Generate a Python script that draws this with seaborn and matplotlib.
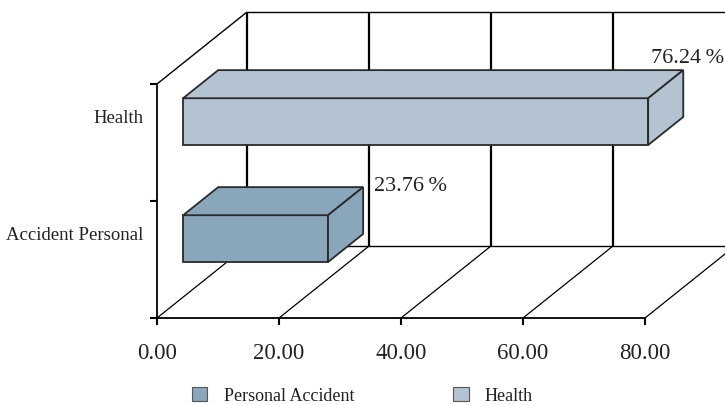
import matplotlib
matplotlib.use("Agg")
import matplotlib.pyplot as plt
import seaborn as sns
import pandas as pd
from matplotlib.patches import Polygon, Patch

# ---- data ----
categories = ["Health", "Accident Personal"]
values = [76.24, 23.76]
value_labels = ["76.24\u2009%", "23.76\u2009%"]
legend_labels = ["Personal Accident", "Health"]
x_ticks = [0, 20, 40, 60, 80]
x_tick_labels = ["0.00", "20.00", "40.00", "60.00", "80.00"]

# ---- style ----
colors = {"Health": "#B3C3D2", "Accident Personal": "#8AA6BB"}
edge = "#2a2a2a"

sns.set_theme(style="white")
plt.rcParams["font.family"] = ["Liberation Serif", "DejaVu Serif"]

W, H = 725, 406
fig = plt.figure(figsize=(W / 100, H / 100), dpi=100)
ax_left, ax_right, ax_top, ax_bot = 157, 645, 85, 319
ax = fig.add_axes([ax_left / W, (H - ax_bot) / H, (ax_right - ax_left) / W, (ax_bot - ax_top) / H])

df = pd.DataFrame({"cat": categories, "val": values})
sns.barplot(data=df, x="val", y="cat", hue="cat", palette=colors, orient="h", saturation=1,
            width=0.40, edgecolor=edge, linewidth=1.3, legend=False, ax=ax, zorder=5)

ax.set_xlim(0, 80)
ax.set_ylim(1.5, -0.5)

# pixel -> data conversions for the oblique depth
px_x = (ax_right - ax_left) / 80.0
px_y = (ax_bot - ax_top) / 2.0
WX, WY = 90 / px_x, -72 / px_y          # full wall depth
front_frac, depth_frac = 0.29, 0.39      # bar placement within depth

# walls / floor
wall_kw = dict(color="black", clip_on=False, zorder=1, solid_capstyle="butt")
ylo, yhi = ax.get_ylim()[1], ax.get_ylim()[0]   # -0.5, 1.5
for xt in x_ticks:
    ax.plot([xt + WX, xt + WX], [yhi + WY, ylo + WY], lw=1.6, **wall_kw)
    ax.plot([xt, xt + WX], [yhi, yhi + WY], lw=0.9, **wall_kw)
ax.plot([0 + WX, 80 + WX], [ylo + WY, ylo + WY], lw=1.0, **wall_kw)
ax.plot([0 + WX, 80 + WX], [yhi + WY, yhi + WY], lw=1.0, **wall_kw)
ax.plot([0, WX], [ylo, ylo + WY], lw=1.0, **wall_kw)

# 3D bars
bx, by = depth_frac * WX, depth_frac * WY
label_offsets = [(-32, 13), (11, 2)]
for i, p in enumerate(ax.patches):
    x0 = p.get_x() + front_frac * WX
    y0 = p.get_y() + front_frac * WY
    w, h = p.get_width(), p.get_height()
    p.set_x(x0)
    p.set_y(y0)
    p.set_clip_on(False)
    x1 = x0 + w
    yt, yb = y0, y0 + h
    fc = p.get_facecolor()
    top = Polygon([(x0, yt), (x1, yt), (x1 + bx, yt + by), (x0 + bx, yt + by)],
                  closed=True, facecolor=fc, edgecolor=edge, lw=1.3, zorder=5, clip_on=False)
    side = Polygon([(x1, yt), (x1, yb), (x1 + bx, yb + by), (x1 + bx, yt + by)],
                   closed=True, facecolor=fc, edgecolor=edge, lw=1.3, zorder=5, clip_on=False)
    ax.add_patch(top)
    ax.add_patch(side)
    dx, dy = label_offsets[i]
    ax.annotate(value_labels[i], xy=(x1 + bx, yt + by), xytext=(dx * 0.72, dy * 0.72),
                textcoords="offset points", ha="left", va="center", fontsize=16,
                color="#222222", annotation_clip=False, zorder=6)

# axes styling
for s in ["top", "right"]:
    ax.spines[s].set_visible(False)
for s in ["left", "bottom"]:
    ax.spines[s].set_color("black")
    ax.spines[s].set_linewidth(1.3)
    ax.spines[s].set_zorder(2)

ax.set_xticks(x_ticks)
ax.set_xticklabels(x_tick_labels, fontsize=16.5, color="#222222")
ax.tick_params(axis="x", which="major", direction="out", length=5, width=1.5, color="black", pad=12, bottom=True)

ax.set_yticks([-0.5, 0.5, 1.5])
ax.set_yticklabels([])
ax.set_yticks([i - 0.23 for i in range(len(categories))], minor=True)
ax.set_yticklabels(categories, minor=True, fontsize=13.5, color="#222222")
ax.tick_params(axis="y", which="major", direction="out", length=5, width=1.5, color="black", left=True)
ax.tick_params(axis="y", which="minor", length=0, pad=10)
ax.set_xlabel("")
ax.set_ylabel("")
ax.grid(False)

# legend
handles = [Patch(facecolor=colors["Accident Personal"], edgecolor="#555555", lw=0.8),
           Patch(facecolor=colors["Health"], edgecolor="#555555", lw=0.8)]
fig.legend(handles, legend_labels, loc="center", bbox_to_anchor=(0.5, 0.024), ncol=2,
           frameon=False, fontsize=13, handlelength=0.85, handleheight=0.85,
           handletextpad=0.9, columnspacing=5.5, labelcolor="#222222",
           borderaxespad=0, borderpad=0.1)

fig.savefig("out.png", dpi=100)
